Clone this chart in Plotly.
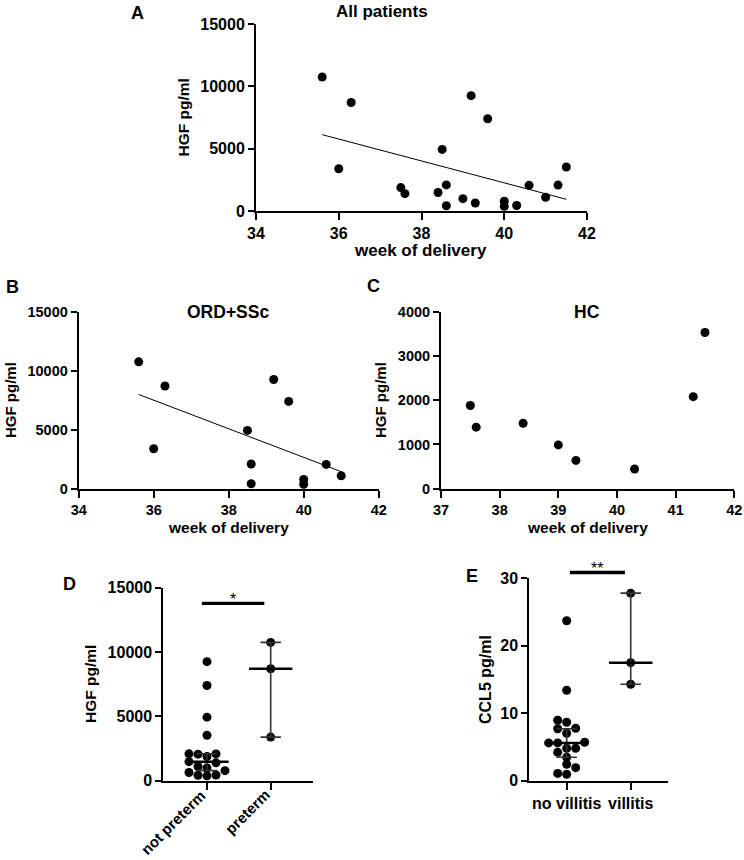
import numpy as np
import plotly.graph_objects as go

W, H = 744, 860

# ORD+SSc patients: week of delivery and HGF (pg/ml)
ord_week = [35.6, 36.3, 36.0, 39.2, 39.6, 38.5, 38.6, 38.6, 40.0, 40.0, 40.6, 41.0]
ord_hgf = [10750, 8700, 3390, 9250, 7400, 4940, 2090, 420, 780, 380, 2060, 1100]

# healthy controls
hc_week = [37.5, 37.6, 38.4, 39.0, 39.3, 40.3, 41.3, 41.5]
hc_hgf = [1880, 1390, 1480, 990, 640, 445, 2080, 3530]

# D: HGF by preterm delivery (< 37 weeks), median with 95% CI
d_labels = ["not preterm", "preterm"]
d_ci_low = [780, 3390]
d_ci_high = [2090, 10750]
d_sig = (-0.08, 0.9, 13780, "*")

# E: CCL5 by villitis, median with 95% CI
e_labels = ["no villitis", "villitis"]
e_no_villitis = [23.7, 13.4, 8.96, 8.66, 7.77, 7.7, 7.03, 5.7, 5.6, 5.6,
                 4.8, 4.8, 4.2, 3.47, 2.43, 1.93, 1.08, 0.95]
e_villitis = [27.8, 17.5, 14.3]
e_ci_low = [3.47, 14.3]
e_ci_high = [7.7, 27.8]
e_sig = (0.05, 0.91, 30.86, "**")

FONT = "Liberation Sans, Arial, Helvetica, sans-serif"

# panel boxes in pixels: (x0, x1, ytop, ybottom)
boxes = {
    "A": (256, 587, 24, 211),
    "B": (78.7, 378.7, 311.7, 488.7),
    "C": (441, 734.3, 311.7, 488.7),
    "D": (163.3, 313.3, 587.7, 780.7),
    "E": (529.3, 668.3, 578.3, 780.7),
}
xranges = {"A": [34, 42], "B": [34, 42], "C": [37, 42],
           "D": [-0.686, 1.669], "E": [-0.584, 1.587]}
yranges = {"A": [0, 15000], "B": [0, 15000], "C": [0, 4000],
           "D": [0, 15000], "E": [0, 30]}
yticks = {"A": [0, 5000, 10000, 15000], "B": [0, 5000, 10000, 15000],
          "C": [0, 1000, 2000, 3000, 4000], "D": [0, 5000, 10000, 15000],
          "E": [0, 10, 20, 30]}
xticks = {"A": [34, 36, 38, 40, 42], "B": [34, 36, 38, 40, 42],
          "C": [37, 38, 39, 40, 41, 42], "D": [0, 1], "E": [0, 1]}
tick_size = {"A": 16, "B": 14.5, "C": 14.5, "D": 16, "E": 16}
axis_id = {"A": "", "B": "2", "C": "3", "D": "4", "E": "5"}


def fx(px):
    return px / W


def fy(py):
    return 1 - py / H


fig = go.Figure()


def axes(p):
    return "x" + axis_id[p], "y" + axis_id[p]


def swarm(vals, cat, p, dx=9.0, dy=7.0):
    # simple column scatter: stack points sideways in steps of one dot width
    x0, x1, yt, yb = boxes[p]
    px_x = (x1 - x0) / (xranges[p][1] - xranges[p][0])
    px_y = (yb - yt) / (yranges[p][1] - yranges[p][0])
    xs = np.zeros(len(vals))
    placed = []
    for i in np.argsort(vals):
        y = vals[i] * px_y
        for k in [0, -1, 1, -2, 2, -3, 3, -4, 4]:
            if all(abs(y - yy) >= dy for c, yy in placed if c == k):
                break
        placed.append((k, y))
        xs[i] = cat + k * dx / px_x
    return xs


def scatter_panel(p, wk, val):
    xa, ya = axes(p)
    fig.add_trace(go.Scatter(x=wk, y=val, mode="markers", xaxis=xa, yaxis=ya,
                             marker=dict(color="black", size=9), cliponaxis=False))


def fit_line(p, wk, val):
    xa, ya = axes(p)
    k, b = np.polyfit(wk, val, 1)
    xx = np.array([min(wk), max(wk)])
    fig.add_trace(go.Scatter(x=xx, y=k * xx + b, mode="lines", xaxis=xa, yaxis=ya,
                             line=dict(color="black", width=1)))


all_week = ord_week + hc_week
all_hgf = ord_hgf + hc_hgf
scatter_panel("A", all_week, all_hgf)
fit_line("A", all_week, all_hgf)
scatter_panel("B", ord_week, ord_hgf)
fit_line("B", ord_week, ord_hgf)
scatter_panel("C", hc_week, hc_hgf)

d_groups = [[v for w, v in zip(all_week, all_hgf) if w >= 37],
            [v for w, v in zip(all_week, all_hgf) if w < 37]]
e_groups = [e_no_villitis, e_villitis]


def column_panel(p, groups, lo, hi, sig):
    xa, ya = axes(p)
    for c, g in enumerate(groups):
        g = np.array(g, dtype=float)
        xs = swarm(g, c, p)
        fig.add_trace(go.Scatter(x=xs, y=g, mode="markers", xaxis=xa, yaxis=ya,
                                 marker=dict(color="black", size=9), cliponaxis=False))
        med = float(np.median(g))
        fig.add_trace(go.Scatter(x=[c, c], y=[lo[c], hi[c]], mode="lines",
                                 xaxis=xa, yaxis=ya, line=dict(color="#333", width=1.6)))
        for v in (lo[c], hi[c]):
            fig.add_trace(go.Scatter(x=[c - 0.16, c + 0.16], y=[v, v], mode="lines",
                                     xaxis=xa, yaxis=ya, line=dict(color="#333", width=1.6)))
        fig.add_trace(go.Scatter(x=[c - 0.34, c + 0.34], y=[med, med], mode="lines",
                                 xaxis=xa, yaxis=ya, line=dict(color="black", width=2.5)))
    # significance bar (domain refs so it may sit above the axis top)
    xr, yr = xranges[p], yranges[p]
    gx0 = (sig[0] - xr[0]) / (xr[1] - xr[0])
    gx1 = (sig[1] - xr[0]) / (xr[1] - xr[0])
    gy = (sig[2] - yr[0]) / (yr[1] - yr[0])
    fig.add_shape(type="line", xref=xa + " domain", yref=ya + " domain",
                  x0=gx0, x1=gx1, y0=gy, y1=gy, line=dict(color="black", width=3.3))
    fig.add_annotation(text=sig[3], xref=xa + " domain", yref=ya + " domain",
                       x=(gx0 + gx1) / 2, y=gy, yanchor="middle", yshift=4,
                       showarrow=False, font=dict(family=FONT, size=16, color="black"))


column_panel("D", d_groups, d_ci_low, d_ci_high, d_sig)
column_panel("E", e_groups, e_ci_low, e_ci_high, e_sig)

layout = dict(width=W, height=H, margin=dict(l=0, r=0, t=0, b=0),
              paper_bgcolor="white", plot_bgcolor="white", showlegend=False)
for p, (x0, x1, yt, yb) in boxes.items():
    n = axis_id[p]
    tickfont = dict(family=FONT, size=tick_size[p], color="black", weight="bold")
    common = dict(showline=True, linewidth=2, linecolor="black", ticks="outside",
                  ticklen=6, tickwidth=2, tickcolor="black", showgrid=False,
                  zeroline=False, tickfont=tickfont, automargin=False, tickformat="d")
    xa = dict(common, domain=[fx(x0), fx(x1)], range=xranges[p], anchor="y" + n,
              tickvals=xticks[p], ticklen=7)
    if p == "D":
        xa.update(showticklabels=False)
    if p == "E":
        xa.update(ticktext=e_labels)
    ya = dict(common, domain=[fy(yb), fy(yt)], range=yranges[p],
              anchor="x" + n, tickvals=yticks[p])
    layout["xaxis" + n] = xa
    layout["yaxis" + n] = ya
fig.update_layout(**layout)

# rotated category labels of D, their ends tucked under each tick
D_LABEL_SIZE = 15
for c, txt in enumerate(d_labels):
    half = 0.5 * 0.52 * D_LABEL_SIZE * len(txt) * 0.707
    fig.add_annotation(text=txt, xref="x4", yref="y4 domain", x=c, y=0,
                       xanchor="center", yanchor="middle", textangle=-45,
                       xshift=-half - 4, yshift=-half - 11, showarrow=False,
                       font=dict(family=FONT, size=D_LABEL_SIZE, color="black",
                                 weight="bold"))


def label(text, x, y, size, angle=0):
    fig.add_annotation(text=text, xref="paper", yref="paper", x=fx(x), y=fy(y),
                       xanchor="center", yanchor="middle", showarrow=False,
                       textangle=angle,
                       font=dict(family=FONT, size=size, color="black", weight="bold"))


# panel letters
label("A", 137, 13, 18)
label("B", 12, 287, 18)
label("C", 373, 286, 18)
label("D", 69, 584, 18)
label("E", 472, 576, 18)
# panel titles
label("All patients", 382, 12, 17)
label("ORD+SSc", 228, 312, 17.5)
label("HC", 587, 312, 17.5)
# axis titles
label("week of delivery", 420, 250, 17)
label("week of delivery", 228.7, 527, 15.5)
label("week of delivery", 587, 527, 15.5)
label("HGF pg/ml", 183, 117.5, 15.5, -90)
label("HGF pg/ml", 11, 400, 15, -90)
label("HGF pg/ml", 381, 400, 15, -90)
label("HGF pg/ml", 90, 684, 15.5, -90)
label("CCL5 pg/ml", 485, 680, 16, -90)

# drop the browser's default page margin so the figure fills the window
fig.write_html("out.html", config={"displayModeBar": False},
               post_script="document.body.style.margin = '0';")
